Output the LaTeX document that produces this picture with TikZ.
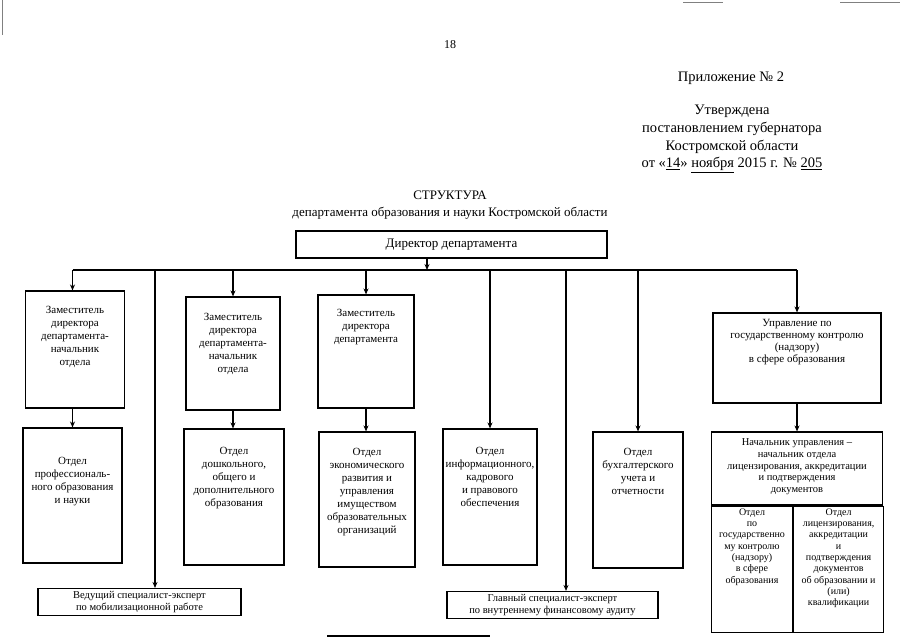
\documentclass[tikz,border=0pt]{standalone}
\usepackage{fontspec}
\setmainfont{Liberation Serif}
\usepackage{tikz}
\usetikzlibrary{
  arrows.meta,
  positioning
}
\tikzset{
  box/.style=
  {
    draw=black,
    line width=1.1pt,
    inner sep=0pt
  },
  boxtext/.style=
  {
    inner sep=0pt,
    align=center,
    font=\fontsize{11}{13}\selectfont
  },
  celltext/.style=
  {
    inner sep=0pt,
    align=center,
    font=\fontsize{10}{11.3}\selectfont
  },
  link/.style=
  {
    line width=1.1pt,
    -{Stealth[length=6pt,width=5pt]}
  },
  busline/.style=
  {
    line width=1.1pt
  }
}

\begin{document}
\begin{tikzpicture}[x=1pt, y=-1pt]
  \useasboundingbox (0,0) rectangle (905,640);
  % scan marks
  \draw[gray, line width=0.6pt] (2,0) -- (2,35);
  \draw[gray, line width=0.8pt] (683,2) -- (723,2);
  \draw[gray, line width=0.8pt] (840,2) -- (900,2);
  % header
  \node[font=\fontsize{12}{14}\selectfont] (pagenum) at (450,45) {18};
  \node[font=\fontsize{14.5}{17}\selectfont] (pril) at (731,78) {Приложение № 2};
  \node[align=center, font=\fontsize{14.5}{17.7}\selectfont] (utv) at (732,139)
    {Утверждена\\постановлением губернатора\\Костромской области\\от «\underline{14}» \underline{ноября} 2015 г. № \underline{205}};
  \node[align=center, font=\fontsize{13}{17}\selectfont] (title) at (450,205)
    {СТРУКТУРА\\департамента образования и науки Костромской области};
  % director
  \node[box, minimum width=311, minimum height=27, font=\fontsize{13}{15}\selectfont] (dir) at (451.5,244.5) {Директор департамента};
  \coordinate (hub) at (427,270);
  \coordinate (busL) at (72.5,270);
  \coordinate (busR) at (797,270);
  \coordinate (vedDrop) at (155,270);
  \coordinate (glavDrop) at (566,270);
  \draw[link] (dir.south -| hub) -- (hub);
  \draw[busline] (busL) -- (busR);
  % upper row
  \node[box, minimum width=99, minimum height=117] (zam1) at (75,349.5) {};
  \node[box, minimum width=94, minimum height=113] (zam2) at (233,353.5) {};
  \node[box, minimum width=96, minimum height=113] (zam3) at (366,351.5) {};
  \node[box, minimum width=168, minimum height=90] (upr) at (797,358) {};
  \node[boxtext, below=16pt of zam1.north] (zam1t) {Заместитель\\директора\\департамента-\\начальник\\отдела};
  \node[boxtext, below=17pt of zam2.north] (zam2t) {Заместитель\\директора\\департамента-\\начальник\\отдела};
  \node[boxtext, below=15pt of zam3.north] (zam3t) {Заместитель\\директора\\департамента};
  \node[boxtext, font=\fontsize{11}{12}\selectfont, below=7pt of upr.north] (uprt) {Управление по\\государственному контролю\\(надзору)\\в сфере образования};
  % lower row
  \node[box, minimum width=99, minimum height=135] (otd1) at (72.5,495.5) {};
  \node[box, minimum width=100, minimum height=136] (otd2) at (234,497) {};
  \node[box, minimum width=96, minimum height=135] (otd3) at (367,499.5) {};
  \node[box, minimum width=94, minimum height=136] (otd4) at (490,497) {};
  \node[box, minimum width=90, minimum height=136] (otd5) at (638,500) {};
  \node[box, minimum width=171, minimum height=73] (nach) at (797,468.5) {};
  \node[box, minimum width=81, minimum height=126, anchor=north west] (otdNadz) at (nach.south west) {};
  \node[box, minimum width=90, minimum height=126, anchor=north west] (otdLic) at (otdNadz.north east) {};
  \node[boxtext, below=30pt of otd1.north] (otd1t) {Отдел\\профессиональ-\\ного образования\\и науки};
  \node[boxtext, below=19pt of otd2.north] (otd2t) {Отдел\\дошкольного,\\общего и\\дополнительного\\образования};
  \node[boxtext, below=17pt of otd3.north] (otd3t) {Отдел\\экономического\\развития и\\управления\\имуществом\\образовательных\\организаций};
  \node[boxtext, below=19pt of otd4.north] (otd4t) {Отдел\\информационного,\\кадрового\\и правового\\обеспечения};
  \node[boxtext, below=17pt of otd5.north] (otd5t) {Отдел\\бухгалтерского\\учета и\\отчетности};
  \node[boxtext, font=\fontsize{10.5}{11.8}\selectfont, below=7pt of nach.north] (nacht) {Начальник управления –\\начальник отдела\\лицензирования, аккредитации\\и подтверждения\\документов};
  \node[celltext, below=3pt of otdNadz.north] (otdNadzt) {Отдел\\по\\государственно\\му контролю\\(надзору)\\в сфере\\образования};
  \node[celltext, below=3pt of otdLic.north] (otdLict) {Отдел\\лицензирования,\\аккредитации\\и\\подтверждения\\документов\\об образовании и\\(или)\\квалификации};
  % specialists
  \node[box, minimum width=203, minimum height=27, font=\fontsize{10.5}{12}\selectfont, align=center] (ved) at (139.5,602) {Ведущий специалист-эксперт\\по мобилизационной работе};
  \node[box, minimum width=211, minimum height=27, font=\fontsize{10.5}{12}\selectfont, align=center] (glav) at (552.5,605) {Главный специалист-эксперт\\по внутреннему финансовому аудиту};
  % connectors
  \draw[link] (busL) -- (zam1.north -| busL);
  \draw[link] (zam2.north |- busL) -- (zam2.north);
  \draw[link] (zam3.north |- busL) -- (zam3.north);
  \draw[link] (busR) -- (upr.north -| busR);
  \draw[link] (vedDrop) -- (vedDrop |- ved.north);
  \draw[link] (glavDrop) -- (glavDrop |- glav.north);
  \draw[link] (otd4.north |- busL) -- (otd4.north);
  \draw[link] (otd5.north |- busL) -- (otd5.north);
  \draw[link] (zam1.south -| otd1.north) -- (otd1.north);
  \draw[link] (zam2.south) -- (zam2.south |- otd2.north);
  \draw[link] (zam3.south) -- (zam3.south |- otd3.north);
  \draw[link] (upr.south) -- (nach.north);
  % footnote rule
  \draw[line width=1.3pt] (327,636) -- (490,636);
\end{tikzpicture}
\end{document}
